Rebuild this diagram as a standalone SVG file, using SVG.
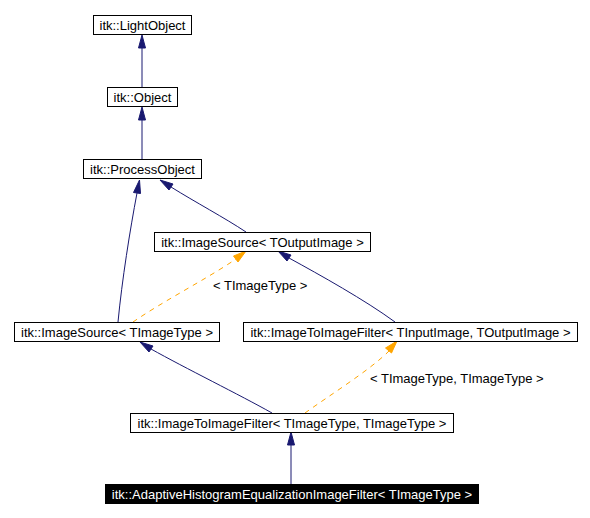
<svg xmlns="http://www.w3.org/2000/svg" width="590" height="518" viewBox="0 0 590 518">
<style>
.box{fill:#ffffff;stroke:#000000;stroke-width:1}
.sel{fill:#000000;stroke:#000000;stroke-width:1}
text{font-family:"Liberation Sans",Arial,sans-serif;font-size:13px;text-anchor:middle;fill:#000000}
.w{fill:#ffffff}
.lbl{text-anchor:start}
.inh{fill:none;stroke:#191970;stroke-width:1}
.tpl{fill:none;stroke:#ffa500;stroke-width:1;stroke-dasharray:5,5}
.ah{fill:#191970;stroke:#191970}
.ao{fill:#ffa500;stroke:#ffa500}
</style>
<rect width="590" height="518" fill="#ffffff"/>
<g id="connectors">
  <line class="inh" x1="142" y1="87" x2="142" y2="48"/>
  <polygon class="ah" points="142,35 138.5,48 145.5,48"/>
  <line class="inh" x1="142" y1="159" x2="142" y2="120"/>
  <polygon class="ah" points="142,107 138.5,120 145.5,120"/>
  <path class="inh" d="M118,322 C122,280 130,230 137,193"/>
  <polygon class="ah" points="139.5,180 133.5,192.5 140.5,193.5"/>
  <path class="inh" d="M246,232 C225,218 195,202 171,187"/>
  <polygon class="ah" points="160,180 169,190 173,184"/>
  <path class="inh" d="M395,322 C365,300 320,275 289,258"/>
  <polygon class="ah" points="278,251 287,261 291,255"/>
  <path class="inh" d="M272,413 C240,395 185,368 151,349"/>
  <polygon class="ah" points="140,342 149,352 153,346"/>
  <line class="inh" x1="291" y1="484" x2="291" y2="445"/>
  <polygon class="ah" points="291,432 287.5,445 294.5,445"/>
  <path class="tpl" d="M133,322 C165,300 205,280 236,259"/>
  <polygon class="ao" points="246,251 233.5,256 238,262"/>
  <path class="tpl" d="M305,413 C330,395 370,370 389,351"/>
  <polygon class="ao" points="397,341 385.5,348 391.5,353"/>
  <text class="lbl" x="213" y="290">&lt; TImageType &gt;</text>
  <text class="lbl" x="370" y="383">&lt; TImageType, TImageType &gt;</text>
</g>
<g id="node_LightObject">
  <rect class="box" x="93.5" y="15.5" width="98" height="19"/>
  <text x="142.5" y="29.5">itk::LightObject</text>
</g>
<g id="node_Object">
  <rect class="box" x="107.5" y="87.5" width="70" height="19"/>
  <text x="142.5" y="101.5">itk::Object</text>
</g>
<g id="node_ProcessObject">
  <rect class="box" x="83.5" y="159.5" width="118" height="19"/>
  <text x="142.5" y="173.5">itk::ProcessObject</text>
</g>
<g id="node_ImageSourceTOutputImage">
  <rect class="box" x="154.5" y="232.5" width="216" height="19"/>
  <text x="262.5" y="246.5">itk::ImageSource&lt; TOutputImage &gt;</text>
</g>
<g id="node_ImageSourceTImageType">
  <rect class="box" x="14.5" y="322.5" width="205" height="19"/>
  <text x="117" y="336.5">itk::ImageSource&lt; TImageType &gt;</text>
</g>
<g id="node_ImageToImageFilterTInTOut">
  <rect class="box" x="243.5" y="322.5" width="334" height="19"/>
  <text x="410.5" y="336.5">itk::ImageToImageFilter&lt; TInputImage, TOutputImage &gt;</text>
</g>
<g id="node_ImageToImageFilterTT">
  <rect class="box" x="130.5" y="413.5" width="323" height="19"/>
  <text x="292" y="427.5">itk::ImageToImageFilter&lt; TImageType, TImageType &gt;</text>
</g>
<g id="node_Adaptive">
  <rect class="sel" x="105.5" y="484.5" width="373" height="19"/>
  <text class="w" x="292" y="498.5">itk::AdaptiveHistogramEqualizationImageFilter&lt; TImageType &gt;</text>
</g>
</svg>
